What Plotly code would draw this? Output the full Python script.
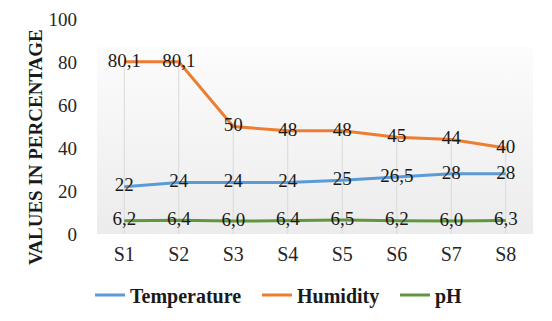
import plotly.graph_objects as go

categories = ["S1", "S2", "S3", "S4", "S5", "S6", "S7", "S8"]
temperature = [22, 24, 24, 24, 25, 26.5, 28, 28]
humidity = [80.1, 80.1, 50, 48, 48, 45, 44, 40]
ph = [6.2, 6.4, 6.0, 6.4, 6.5, 6.2, 6.0, 6.3]
y_ticks = [0, 20, 40, 60, 80, 100]

xs = list(range(len(categories)))
FONT = "Liberation Serif, Times New Roman, DejaVu Serif, serif"


def fmt(v, dec=None):
    s = f"{v:.{dec}f}" if dec is not None else f"{v:g}"
    return s.replace(".", ",")


fig = go.Figure()

# plot-area gradient background
fig.add_trace(go.Scatter(
    x=[-0.5, 7.5, 7.5, -0.5, -0.5], y=[0, 0, 87, 87, 0],
    mode="lines", line=dict(width=0), fill="toself",
    fillgradient=dict(type="vertical",
                      colorscale=[[0, "#ececec"], [1, "#fcfcfc"]]),
    showlegend=False, hoverinfo="skip"))

# drop lines from highest series to axis
dx, dy = [], []
for i, h in enumerate(humidity):
    dx += [xs[i], xs[i], None]
    dy += [0, max(h, temperature[i], ph[i]), None]
fig.add_trace(go.Scatter(x=dx, y=dy, mode="lines",
                         line=dict(color="#d9d9d9", width=1),
                         showlegend=False, hoverinfo="skip"))

series = [
    ("Temperature", temperature, "#5b9bd5", None, "legend"),
    ("Humidity", humidity, "#ed7d31", None, "legend2"),
    ("pH", ph, "#62953f", 1, "legend3"),
]
for name, vals, color, dec, leg in series:
    fig.add_trace(go.Scatter(
        x=xs, y=vals, name=name, mode="lines+text", legend=leg,
        line=dict(color=color, width=3),
        text=[fmt(v, dec) for v in vals], textposition="middle center",
        textfont=dict(family=FONT, size=19, color="#1a1a1a"),
        hoverinfo="skip"))

# plot area: x 89..525 within a 544-wide figure (page adds 8px body margin)
PW, PH_ = 436, 215


def px_to_paper_x(px):
    return (px - 97) / PW


leg_common = dict(orientation="h", yanchor="middle", y=(234 - 295) / PH_,
                  xanchor="left",
                  font=dict(family=FONT, size=20, color="#1a1a1a",
                            weight="bold"),
                  bgcolor="rgba(0,0,0,0)")

fig.update_layout(
    width=544, height=313,
    margin=dict(l=89, r=19, t=11, b=87, autoexpand=False),
    paper_bgcolor="white", plot_bgcolor="white",
    font=dict(family=FONT, size=19, color="#262626"),
    legend=dict(x=px_to_paper_x(95 - 5), **leg_common),
    legend2=dict(x=px_to_paper_x(262 - 5), **leg_common),
    legend3=dict(x=px_to_paper_x(400 - 5), **leg_common),
    showlegend=True,
    annotations=[dict(text="VALUES IN PERCENTAGE", textangle=-90,
                      xref="paper", yref="paper",
                      x=px_to_paper_x(35), y=(234 - 147) / PH_,
                      xanchor="center", yanchor="middle",
                      showarrow=False,
                      font=dict(family=FONT, size=19, color="#1a1a1a",
                                weight="bold"))],
)
fig.update_xaxes(range=[-0.5, 7.5], tickvals=xs, ticktext=categories,
                 showgrid=False, zeroline=False, showline=False,
                 ticks="", ticklabelstandoff=6, automargin=False,
                 tickfont=dict(family=FONT, size=20, color="#262626"))
fig.update_yaxes(range=[0, 100], tickvals=y_ticks, showgrid=False,
                 zeroline=False, showline=False, ticks="",
                 ticklabelstandoff=19, automargin=False,
                 tickfont=dict(family=FONT, size=19, color="#262626"))

fig.write_html("out.html")
